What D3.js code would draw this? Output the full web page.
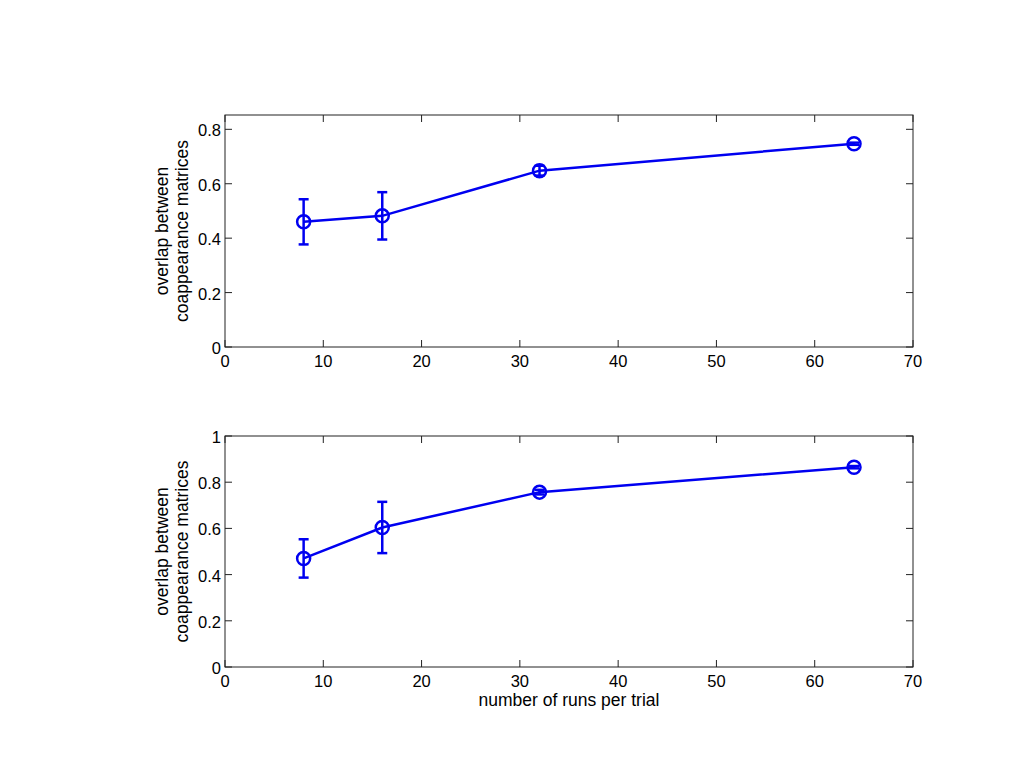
<!DOCTYPE html>
<html>
<head>
<meta charset="utf-8">
<script src="https://cdn.jsdelivr.net/npm/d3@7"></script>
<style>
  body { margin: 0; background: #fff; }
  text { font-family: "Liberation Sans", Arial, sans-serif; fill: #000; }
</style>
</head>
<body>
<script>
// runs per trial (shared x values)
var runs = [8, 16, 32, 64];

// top panel
var overlapTop = [0.460, 0.482, 0.648, 0.747];
var errTop = [0.083, 0.087, 0.018, 0.004];

// bottom panel
var overlapBottom = [0.470, 0.604, 0.757, 0.865];
var errBottom = [0.083, 0.111, 0.010, 0.005];

var xTicks = [0, 10, 20, 30, 40, 50, 60, 70];
var yTicksTop = [0, 0.2, 0.4, 0.6, 0.8];
var yTicksBottom = [0, 0.2, 0.4, 0.6, 0.8, 1];

var width = 1024, height = 768;
var svg = d3.select('body').append('svg')
  .attr('width', width)
  .attr('height', height);

var blue = '#0000f0';

function panel(top, bottom, yMax, yTicks, values, errs, showXLabel) {
  var left = 225, right = 913;
  var x = d3.scaleLinear().domain([0, 70]).range([left, right]);
  var y = d3.scaleLinear().domain([0, yMax]).range([bottom, top]);

  var g = svg.append('g');

  // frame
  g.append('rect')
    .attr('x', left).attr('y', top)
    .attr('width', right - left).attr('height', bottom - top)
    .attr('fill', 'none').attr('stroke', '#222').attr('stroke-width', 1);

  // ticks, inward on all four sides
  var tl = 7;
  xTicks.forEach(function(t) {
    g.append('line').attr('x1', x(t)).attr('x2', x(t)).attr('y1', bottom).attr('y2', bottom - tl)
      .attr('stroke', '#222');
    g.append('line').attr('x1', x(t)).attr('x2', x(t)).attr('y1', top).attr('y2', top + tl)
      .attr('stroke', '#222');
    g.append('text')
      .attr('x', x(t)).attr('y', bottom + 20)
      .attr('text-anchor', 'middle')
      .style('font-size', '16.5px')
      .text(t);
  });
  yTicks.forEach(function(t) {
    g.append('line').attr('x1', left).attr('x2', left + tl).attr('y1', y(t)).attr('y2', y(t))
      .attr('stroke', '#222');
    g.append('line').attr('x1', right).attr('x2', right - tl).attr('y1', y(t)).attr('y2', y(t))
      .attr('stroke', '#222');
    g.append('text')
      .attr('x', left - 4).attr('y', y(t) + 7)
      .attr('text-anchor', 'end')
      .style('font-size', '16.5px')
      .text(t);
  });

  // y label, two lines
  var midY = (top + bottom) / 2;
  var yl = g.append('text')
    .attr('transform', 'translate(168,' + midY + ') rotate(-90)')
    .attr('text-anchor', 'middle')
    .style('font-size', '17.5px');
  yl.append('tspan').attr('x', 0).attr('dy', 0).text('overlap between');
  yl.append('tspan').attr('x', 0).attr('dy', 20).text('coappearance matrices');

  if (showXLabel) {
    g.append('text')
      .attr('x', (left + right) / 2).attr('y', bottom + 39)
      .attr('text-anchor', 'middle')
      .style('font-size', '17.5px')
      .text('number of runs per trial');
  }

  var pts = runs.map(function(r, i) { return { x: r, y: values[i], e: errs[i] }; });

  // line
  g.append('path')
    .datum(pts)
    .attr('fill', 'none')
    .attr('stroke', blue)
    .attr('stroke-width', 2.5)
    .attr('d', d3.line().x(function(d) { return x(d.x); }).y(function(d) { return y(d.y); }));

  // error bars
  var cap = 5;
  var eb = g.selectAll('.eb').data(pts).enter().append('g');
  eb.append('line')
    .attr('x1', function(d) { return x(d.x); }).attr('x2', function(d) { return x(d.x); })
    .attr('y1', function(d) { return y(d.y - d.e); }).attr('y2', function(d) { return y(d.y + d.e); })
    .attr('stroke', blue).attr('stroke-width', 2.5);
  eb.append('line')
    .attr('x1', function(d) { return x(d.x) - cap; }).attr('x2', function(d) { return x(d.x) + cap; })
    .attr('y1', function(d) { return y(d.y + d.e); }).attr('y2', function(d) { return y(d.y + d.e); })
    .attr('stroke', blue).attr('stroke-width', 2.5);
  eb.append('line')
    .attr('x1', function(d) { return x(d.x) - cap; }).attr('x2', function(d) { return x(d.x) + cap; })
    .attr('y1', function(d) { return y(d.y - d.e); }).attr('y2', function(d) { return y(d.y - d.e); })
    .attr('stroke', blue).attr('stroke-width', 2.5);

  // circle markers
  g.selectAll('.mk').data(pts).enter().append('circle')
    .attr('cx', function(d) { return x(d.x); })
    .attr('cy', function(d) { return y(d.y); })
    .attr('r', 6.5)
    .attr('fill', 'none')
    .attr('stroke', blue)
    .attr('stroke-width', 2.5);
}

panel(115, 347, 0.8526, yTicksTop, overlapTop, errTop, false);
panel(436, 667, 1, yTicksBottom, overlapBottom, errBottom, true);
</script>
</body>
</html>
